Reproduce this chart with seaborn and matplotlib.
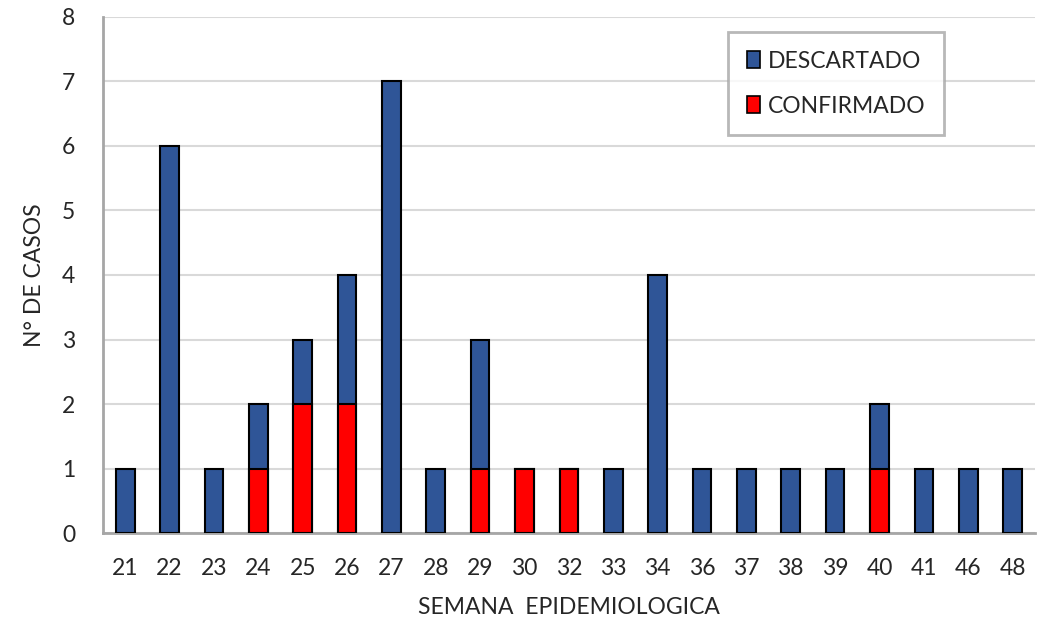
import pandas as pd
import seaborn as sns
import matplotlib.pyplot as plt
from matplotlib.patches import Patch

# Semana epidemiologica data
semanas = ['21', '22', '23', '24', '25', '26', '27', '28', '29', '30', '32',
           '33', '34', '36', '37', '38', '39', '40', '41', '46', '48']
descartado = [1, 6, 1, 1, 1, 2, 7, 1, 2, 0, 0, 1, 4, 1, 1, 1, 1, 1, 1, 1, 1]
confirmado = [0, 0, 0, 1, 2, 2, 0, 0, 1, 1, 1, 0, 0, 0, 0, 0, 0, 1, 0, 0, 0]

df = pd.DataFrame({'Semana': semanas, 'Descartado': descartado, 'Confirmado': confirmado})
df['Total'] = df['Descartado'] + df['Confirmado']

sns.set_style('white')
plt.rcParams['font.family'] = ['Lato', 'DejaVu Sans']

blue = '#2F5597'
red = '#FF0000'
fs = 16.5

fig = plt.figure(figsize=(10.41, 6.2), dpi=100)
ax = fig.add_axes([0.099, 0.140, 0.895, 0.833])

# stacked: total (blue) behind, confirmed (red) at bottom
sns.barplot(data=df, x='Semana', y='Total', order=semanas, color=blue,
            width=0.42, edgecolor='black', linewidth=1.5, saturation=1, ax=ax, zorder=3)
sns.barplot(data=df[df['Confirmado'] > 0], x='Semana', y='Confirmado', order=semanas,
            color=red, width=0.42, edgecolor='black', linewidth=1.5, saturation=1,
            ax=ax, zorder=4)

ax.set_ylim(0, 8)
ax.set_xlim(-0.5, len(semanas) - 0.5)
ax.set_yticks(range(0, 9))
ax.yaxis.grid(True, color='#D9D9D9', linewidth=1.5, zorder=0)
ax.set_axisbelow(True)

for s in ['top', 'right']:
    ax.spines[s].set_visible(False)
for s in ['left', 'bottom']:
    ax.spines[s].set_color('#A6A6A6')
    ax.spines[s].set_linewidth(2)

ax.tick_params(axis='both', length=0, labelsize=fs)
ax.tick_params(axis='x', pad=18)
ax.tick_params(axis='y', pad=20)
ax.set_xlabel('SEMANA  EPIDEMIOLOGICA', fontsize=fs, labelpad=13)
ax.set_ylabel('N° DE CASOS', fontsize=fs, labelpad=12)

handles = [Patch(facecolor=blue, edgecolor='black', linewidth=1.2, label='DESCARTADO'),
           Patch(facecolor=red, edgecolor='black', linewidth=1.2, label='CONFIRMADO')]
leg = ax.legend(handles=handles, loc='upper left', bbox_to_anchor=(0.671, 0.97),
                fontsize=fs, frameon=True, fancybox=False, handlelength=0.6,
                handleheight=0.8, handletextpad=0.35, labelspacing=1.05,
                borderpad=0.8, borderaxespad=0)
leg.get_frame().set_edgecolor('#A6A6A6')
leg.get_frame().set_linewidth(2)

fig.savefig('out.png', dpi=100)
